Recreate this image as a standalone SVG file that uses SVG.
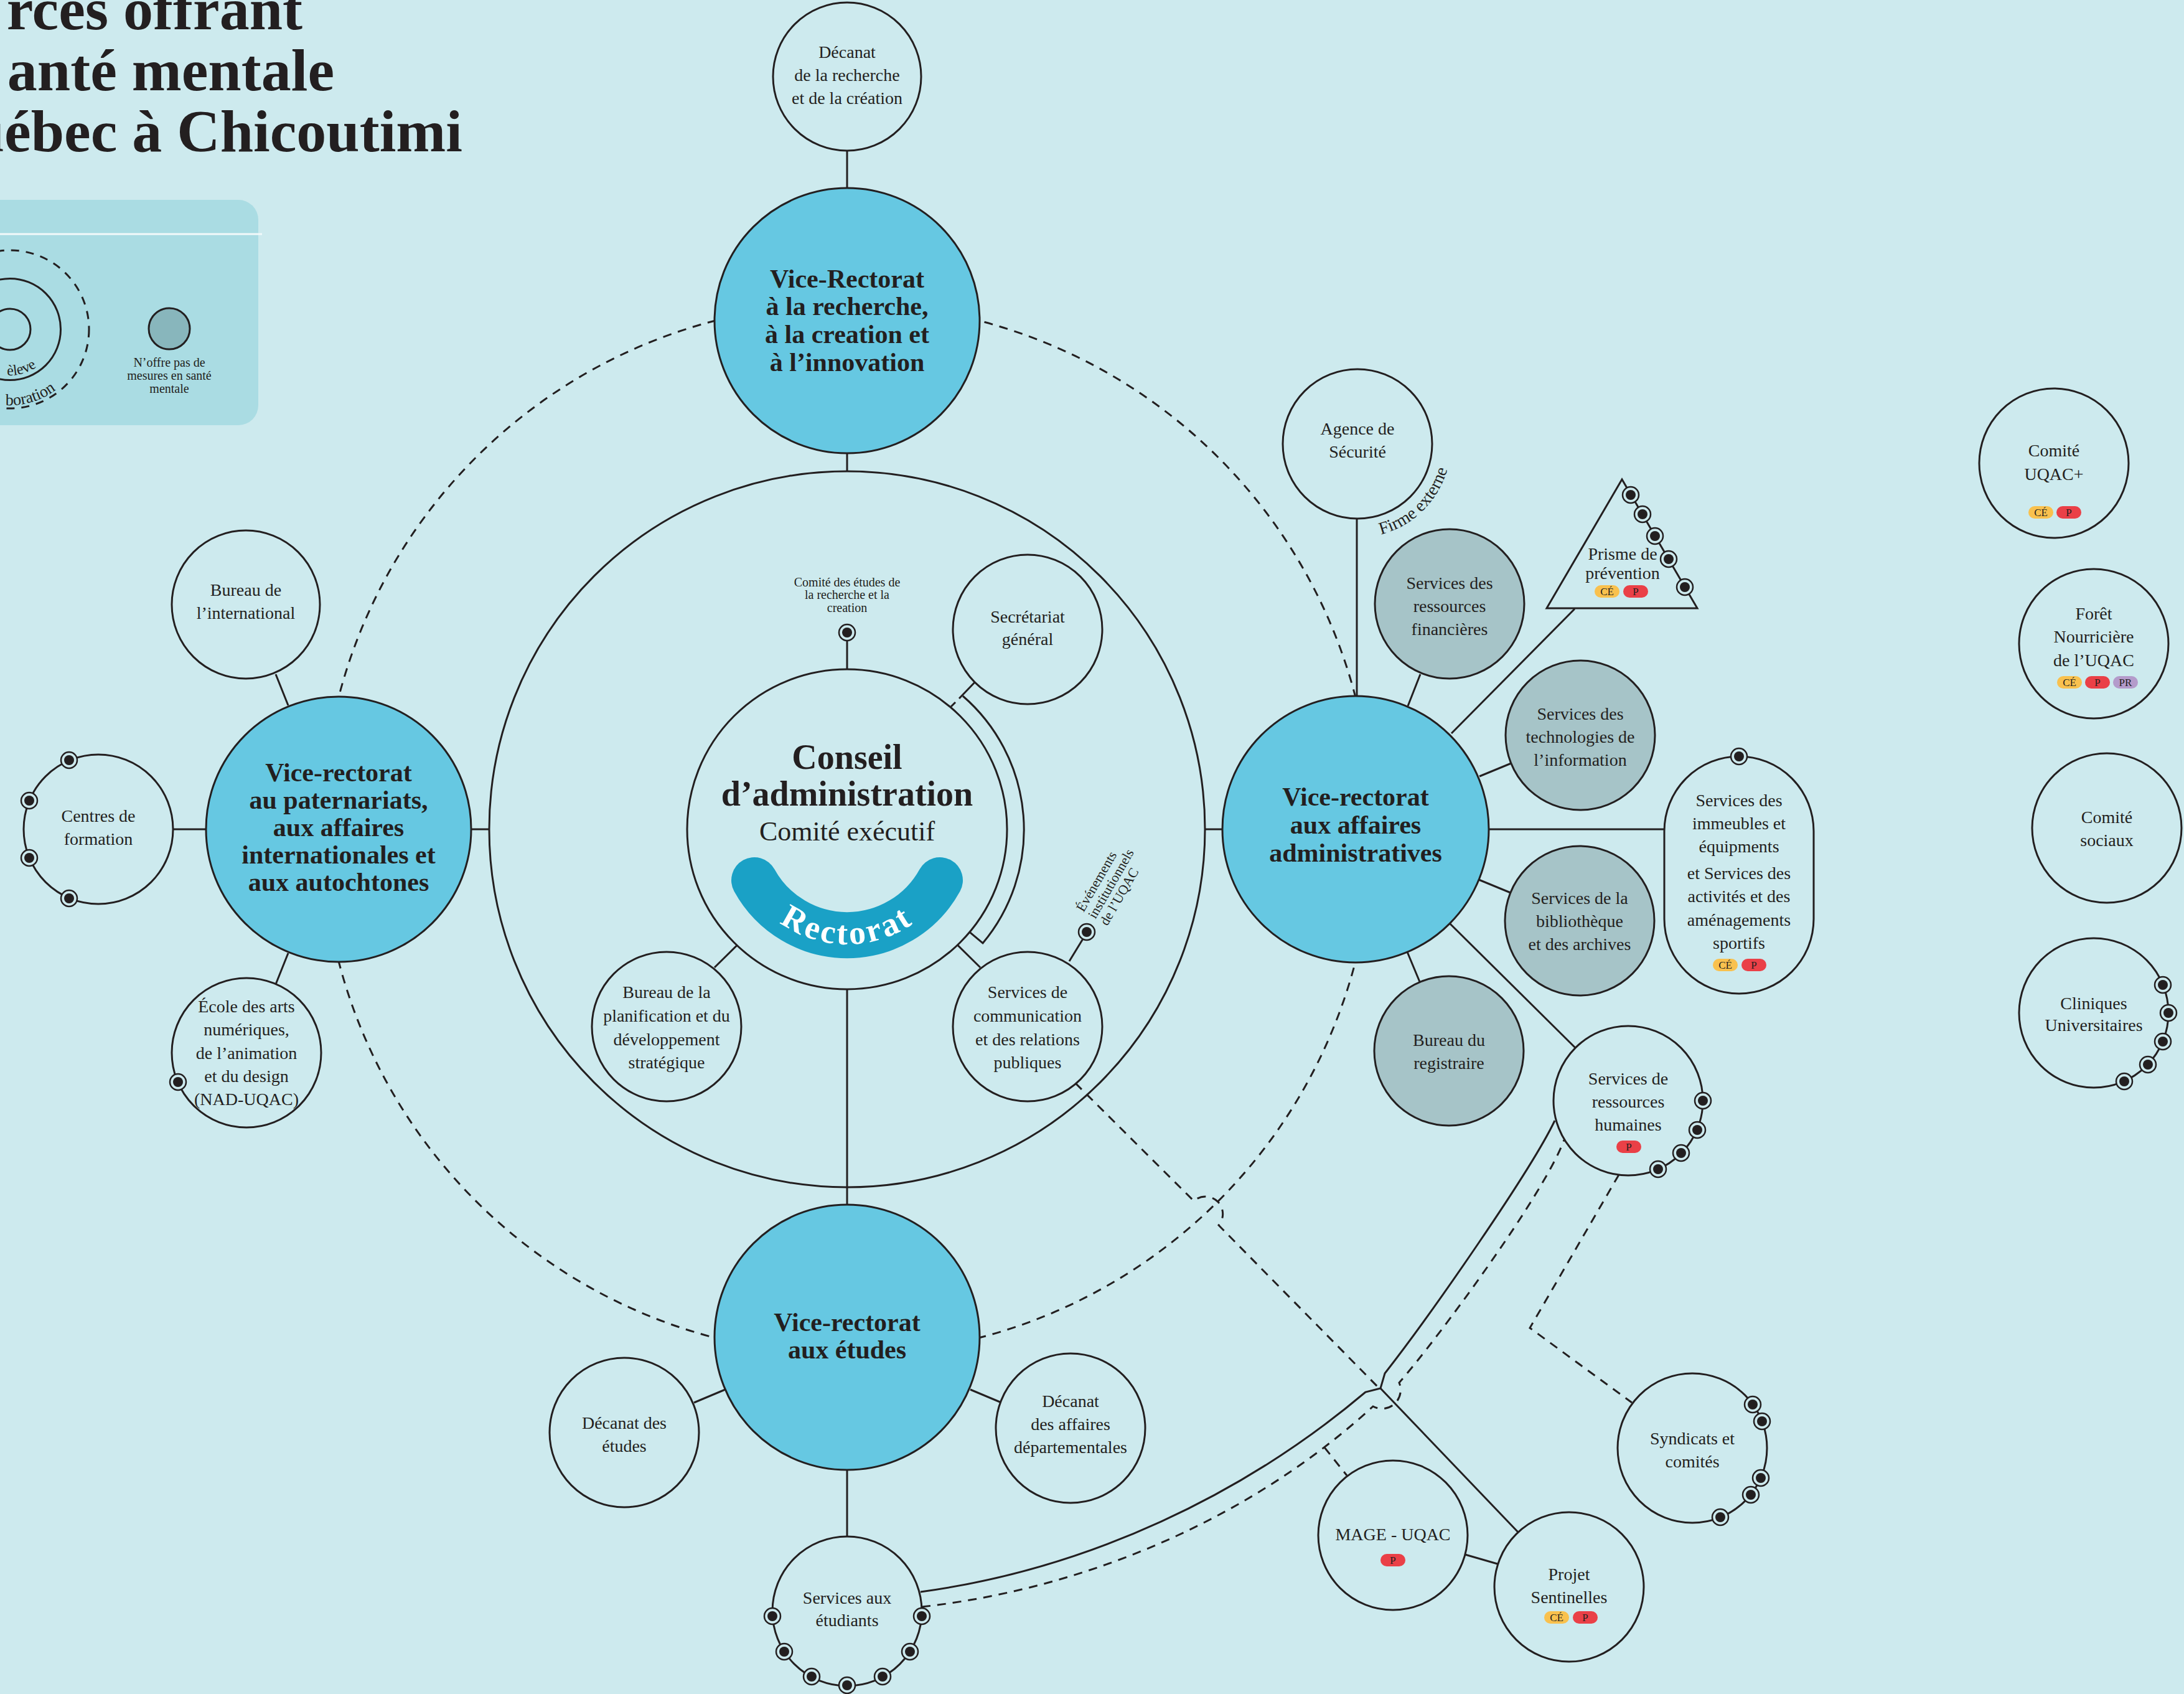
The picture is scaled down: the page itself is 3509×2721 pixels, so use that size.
<svg xmlns="http://www.w3.org/2000/svg" xmlns:xlink="http://www.w3.org/1999/xlink" width="3509" height="2721" viewBox="0 0 3509 2721">
<style>
.ln{stroke:#231f20;stroke-width:3;fill:none}
.ds{stroke-dasharray:14 11}
.nd{fill:#cdeaee;stroke:#231f20;stroke-width:3}
.vr{fill:#66c8e2;stroke:#231f20;stroke-width:3}
.gr{fill:#a6c4c8;stroke:#231f20;stroke-width:3}
.t{font-family:"Liberation Serif",serif;font-size:28px;fill:#231f20;text-anchor:middle}
.tb{font-weight:bold;font-size:42px}
.bt{font-family:"Liberation Serif",serif;font-size:17px;fill:#231f20;text-anchor:middle}
.ce{fill:#f9c14e}.p{fill:#ea4047}.pr{fill:#b49bcb}
.title{font-family:"Liberation Serif",serif;font-weight:bold;font-size:96px;fill:#231f20;text-anchor:end}
</style>
<defs>
<g id="dot"><circle r="13" fill="#cdeaee" stroke="#231f20" stroke-width="2.5"/><circle r="8" fill="#231f20"/></g>
<path id="pElev" d="M -58 529 A 74 74 0 0 0 90 529"/>
<path id="pColl" d="M -106 529 A 122 122 0 0 0 138 529"/>
<path id="pRect" d="M 1176 1332 A 185 185 0 0 0 1546 1332"/>
<path id="pFirme" d="M 2207 861 A 150 150 0 0 0 2331 713"/>
</defs>
<rect x="0" y="0" width="3509" height="2721" fill="#cdeaee"/>

<g id="title">
<text class="title" x="486" y="47">rces offrant</text>
<text class="title" x="537" y="145">anté mentale</text>
<text class="title" x="743" y="243">uébec à Chicoutimi</text>
</g>

<g id="legend">
<rect x="-40" y="321" width="455" height="362" rx="32" fill="#aadce3"/>
<line x1="-10" y1="376" x2="421" y2="376" stroke="#f2f9fa" stroke-width="3"/>
<circle cx="16" cy="529" r="33" fill="none" stroke="#231f20" stroke-width="3"/>
<circle cx="16" cy="529" r="81.5" fill="none" stroke="#231f20" stroke-width="3"/>
<circle cx="16" cy="529" r="127" fill="none" stroke="#231f20" stroke-width="3" stroke-dasharray="13 11"/>
<text font-family="Liberation Serif,serif" font-size="24" fill="#231f20" text-anchor="end"><textPath href="#pElev" startOffset="162">èleve</textPath></text>
<text font-family="Liberation Serif,serif" font-size="26" fill="#231f20" text-anchor="end"><textPath href="#pColl" startOffset="271">boration</textPath></text>
<circle cx="272" cy="528" r="33" fill="#88b6bc" stroke="#231f20" stroke-width="3"/>
<text class="t" style="font-size:20px"><tspan x="272" y="589">N’offre pas de</tspan><tspan x="272" y="610">mesures en santé</tspan><tspan x="272" y="631">mentale</tspan></text>
</g>

<g id="rings">
<circle cx="1361" cy="1332" r="844" class="ln ds"/>
<circle cx="1361" cy="1332" r="575" class="ln"/>
</g>

<g id="connectors" class="ln">
<line x1="1361" y1="242" x2="1361" y2="302"/>
<line x1="1361" y1="728" x2="1361" y2="757"/>
<line x1="1361" y1="1539" x2="1361" y2="1935"/>
<line x1="757" y1="1332" x2="786" y2="1332"/>
<line x1="1936" y1="1332" x2="1965" y2="1332"/>
<line x1="443" y1="1083" x2="463" y2="1133"/>
<line x1="443" y1="1581" x2="463" y2="1531"/>
<line x1="278" y1="1332" x2="331" y2="1332"/>
<line x1="1361" y1="1029" x2="1361" y2="1075"/>
<line x1="1566" y1="1096" x2="1541" y2="1122"/>
<line x1="1528" y1="1135" x2="1535" y2="1128"/>
<path d="M 1547 1118 A 284 284 0 0 1 1579 1515 L 1522 1467"/>
<line x1="1218" y1="1485" x2="1148" y2="1554"/>
<line x1="1505" y1="1485" x2="1575" y2="1554"/>
<line x1="1718" y1="1544" x2="1740" y2="1508"/>
<line x1="1165" y1="2232" x2="1115" y2="2253"/>
<line x1="1559" y1="2232" x2="1609" y2="2253"/>
<line x1="1361" y1="2361" x2="1361" y2="2468"/>
<line x1="2180" y1="833" x2="2180" y2="1118"/>
<line x1="2282" y1="1083" x2="2262" y2="1134"/>
<line x1="2530" y1="978" x2="2332" y2="1178"/>
<line x1="2428" y1="1226" x2="2377" y2="1247"/>
<line x1="2392" y1="1332" x2="2674" y2="1332"/>
<line x1="2376" y1="1413" x2="2427" y2="1434"/>
<line x1="2261" y1="1529" x2="2281" y2="1577"/>
<line x1="2329" y1="1483" x2="2531" y2="1683"/>
<path d="M 1479 2557 C 1750 2520 2000 2400 2194 2236 L 2218 2230 L 2225 2206 C 2300 2110 2460 1880 2498 1800"/>
<path class="ds" d="M 1481 2581 C 1760 2550 2020 2430 2206 2259 A 30 30 0 0 0 2248 2221 C 2310 2150 2480 1920 2513 1831"/>
<path class="ds" d="M 1728 1740 L 1918 1929 A 28 28 0 0 1 1958 1968 L 2214 2228"/>
<line x1="2218" y1="2230" x2="2439" y2="2461"/>
<path class="ds" d="M 2601 1887 L 2458 2133 L 2622 2253"/>
<line class="ds" x1="2128" y1="2325" x2="2164" y2="2370"/>
<line x1="2354" y1="2497" x2="2406" y2="2512"/>
</g>

<g id="n-decanat-recherche">
<circle cx="1361" cy="123" r="119" class="nd"/>
<text class="t"><tspan x="1361" y="93">Décanat</tspan><tspan x="1361" y="130">de la recherche</tspan><tspan x="1361" y="167">et de la création</tspan></text>
</g>
<g id="n-vr-recherche">
<circle cx="1361" cy="515" r="213" class="vr"/>
<text class="t tb"><tspan x="1361" y="462">Vice-Rectorat</tspan><tspan x="1361" y="506">à la recherche,</tspan><tspan x="1361" y="551">à la creation et</tspan><tspan x="1361" y="596">à l’innovation</tspan></text>
</g>
<g id="n-conseil">
<circle cx="1361" cy="1332" r="257" class="nd"/>
<text class="t" style="font-weight:bold;font-size:56px"><tspan x="1361" y="1235">Conseil</tspan><tspan x="1361" y="1294">d’administration</tspan></text>
<text class="t" style="font-size:44px" x="1361" y="1350">Comité exécutif</text>
</g>
<g id="n-rectorat">
<path d="M 1212 1414 A 170 170 0 0 0 1510 1414" fill="none" stroke="#1aa1c6" stroke-width="74" stroke-linecap="round"/>
<text font-family="Liberation Serif,serif" font-weight="bold" font-size="54" fill="#ffffff" letter-spacing="4" text-anchor="middle"><textPath href="#pRect" startOffset="50%">Rectorat</textPath></text>
</g>
<g id="n-comite-etudes">
<use href="#dot" x="1361" y="1016"/>
<text class="t" style="font-size:20px"><tspan x="1361" y="942">Comité des études de</tspan><tspan x="1361" y="962">la recherche et la</tspan><tspan x="1361" y="983">creation</tspan></text>
</g>
<g id="n-secretariat">
<circle cx="1651" cy="1011" r="120" class="nd"/>
<text class="t"><tspan x="1651" y="1000">Secrétariat</tspan><tspan x="1651" y="1036">général</tspan></text>
</g>
<g id="n-planification">
<circle cx="1071" cy="1649" r="120" class="nd"/>
<text class="t"><tspan x="1071" y="1603">Bureau de la</tspan><tspan x="1071" y="1641">planification et du</tspan><tspan x="1071" y="1679">développement</tspan><tspan x="1071" y="1716">stratégique</tspan></text>
</g>
<g id="n-communication">
<circle cx="1651" cy="1649" r="120" class="nd"/>
<text class="t"><tspan x="1651" y="1603">Services de</tspan><tspan x="1651" y="1641">communication</tspan><tspan x="1651" y="1679">et des relations</tspan><tspan x="1651" y="1716">publiques</tspan></text>
</g>
<g id="n-evenements">
<use href="#dot" x="1746" y="1497"/>
<text class="t" style="font-size:22px;text-anchor:start" transform="translate(1741 1466) rotate(-60)"><tspan x="0" y="0">Événements</tspan><tspan x="0" y="22">institutionnels</tspan><tspan x="0" y="44">de l’UQAC</tspan></text>
</g>

<g id="n-vr-partenariats">
<circle cx="544" cy="1332" r="213" class="vr"/>
<text class="t tb"><tspan x="544" y="1255">Vice-rectorat</tspan><tspan x="544" y="1299">au paternariats,</tspan><tspan x="544" y="1343">aux affaires</tspan><tspan x="544" y="1387">internationales et</tspan><tspan x="544" y="1431">aux autochtones</tspan></text>
</g>
<g id="n-international">
<circle cx="395" cy="971" r="119" class="nd"/>
<text class="t"><tspan x="395" y="957">Bureau de</tspan><tspan x="395" y="994">l’international</tspan></text>
</g>
<g id="n-centres-formation">
<circle cx="158" cy="1332" r="120" class="nd"/>
<text class="t"><tspan x="158" y="1320">Centres de</tspan><tspan x="158" y="1357">formation</tspan></text>
<use href="#dot" x="111" y="1221"/><use href="#dot" x="47" y="1286"/><use href="#dot" x="47" y="1378"/><use href="#dot" x="111" y="1443"/>
</g>
<g id="n-ecole-arts">
<circle cx="396" cy="1691" r="120" class="nd"/>
<text class="t"><tspan x="396" y="1626">École des arts</tspan><tspan x="396" y="1663">numériques,</tspan><tspan x="396" y="1701">de l’animation</tspan><tspan x="396" y="1738">et du design</tspan><tspan x="396" y="1775">(NAD-UQAC)</tspan></text>
<use href="#dot" x="286" y="1738"/>
</g>

<g id="n-vr-etudes">
<circle cx="1361" cy="2148" r="213" class="vr"/>
<text class="t tb"><tspan x="1361" y="2138">Vice-rectorat</tspan><tspan x="1361" y="2182">aux études</tspan></text>
</g>
<g id="n-decanat-etudes">
<circle cx="1003" cy="2301" r="120" class="nd"/>
<text class="t"><tspan x="1003" y="2295">Décanat des</tspan><tspan x="1003" y="2332">études</tspan></text>
</g>
<g id="n-decanat-affaires">
<circle cx="1720" cy="2294" r="120" class="nd"/>
<text class="t"><tspan x="1720" y="2260">Décanat</tspan><tspan x="1720" y="2297">des affaires</tspan><tspan x="1720" y="2334">départementales</tspan></text>
</g>
<g id="n-services-etudiants">
<circle cx="1361" cy="2588" r="120" class="nd"/>
<text class="t"><tspan x="1361" y="2576">Services aux</tspan><tspan x="1361" y="2612">étudiants</tspan></text>
<use href="#dot" x="1481" y="2596"/><use href="#dot" x="1462" y="2653"/><use href="#dot" x="1418" y="2693"/><use href="#dot" x="1361" y="2707"/><use href="#dot" x="1304" y="2693"/><use href="#dot" x="1260" y="2653"/><use href="#dot" x="1241" y="2596"/>
</g>

<g id="n-vr-admin">
<circle cx="2178" cy="1332" r="214" class="vr"/>
<text class="t tb"><tspan x="2178" y="1294">Vice-rectorat</tspan><tspan x="2178" y="1339">aux affaires</tspan><tspan x="2178" y="1384">administratives</tspan></text>
</g>
<g id="n-agence">
<circle cx="2181" cy="713" r="120" class="nd"/>
<text class="t"><tspan x="2181" y="698">Agence de</tspan><tspan x="2181" y="735">Sécurité</tspan></text>
<text class="t" style="text-anchor:start"><textPath href="#pFirme" startOffset="12">Firme externe</textPath></text>
</g>
<g id="n-ressources-financieres">
<circle cx="2329" cy="970" r="120" class="gr"/>
<text class="t"><tspan x="2329" y="946">Services des</tspan><tspan x="2329" y="983">ressources</tspan><tspan x="2329" y="1020">financières</tspan></text>
</g>
<g id="n-prisme">
<polygon points="2606,770 2485,977 2727,977" class="nd"/>
<text class="t"><tspan x="2607" y="899">Prisme de</tspan><tspan x="2607" y="930">prévention</tspan></text>
<rect x="2562" y="940" width="40" height="20" rx="10" class="ce"/><text class="bt" x="2582" y="956">CÉ</text>
<rect x="2608" y="940" width="40" height="20" rx="10" class="p"/><text class="bt" x="2628" y="956">P</text>
<use href="#dot" x="2620" y="795"/><use href="#dot" x="2639" y="826"/><use href="#dot" x="2659" y="861"/><use href="#dot" x="2681" y="898"/><use href="#dot" x="2707" y="943"/>
</g>
<g id="n-technologies">
<circle cx="2539" cy="1181" r="120" class="gr"/>
<text class="t"><tspan x="2539" y="1156">Services des</tspan><tspan x="2539" y="1193">technologies de</tspan><tspan x="2539" y="1230">l’information</tspan></text>
</g>
<g id="n-immeubles">
<rect x="2674" y="1215" width="240" height="381" rx="120" class="nd"/>
<text class="t"><tspan x="2794" y="1295">Services des</tspan><tspan x="2794" y="1332">immeubles et</tspan><tspan x="2794" y="1369">équipments</tspan><tspan x="2794" y="1412">et Services des</tspan><tspan x="2794" y="1449">activités et des</tspan><tspan x="2794" y="1487">aménagements</tspan><tspan x="2794" y="1524">sportifs</tspan></text>
<rect x="2752" y="1540" width="40" height="20" rx="10" class="ce"/><text class="bt" x="2772" y="1556">CÉ</text>
<rect x="2798" y="1540" width="40" height="20" rx="10" class="p"/><text class="bt" x="2818" y="1556">P</text>
<use href="#dot" x="2794" y="1215"/>
</g>
<g id="n-bibliotheque">
<circle cx="2538" cy="1479" r="120" class="gr"/>
<text class="t"><tspan x="2538" y="1452">Services de la</tspan><tspan x="2538" y="1489">bibliothèque</tspan><tspan x="2538" y="1526">et des archives</tspan></text>
</g>
<g id="n-registraire">
<circle cx="2328" cy="1688" r="120" class="gr"/>
<text class="t"><tspan x="2328" y="1680">Bureau du</tspan><tspan x="2328" y="1717">registraire</tspan></text>
</g>
<g id="n-ressources-humaines">
<circle cx="2616" cy="1768" r="120" class="nd"/>
<text class="t"><tspan x="2616" y="1742">Services de</tspan><tspan x="2616" y="1779">ressources</tspan><tspan x="2616" y="1816">humaines</tspan></text>
<rect x="2597" y="1832" width="40" height="20" rx="10" class="p"/><text class="bt" x="2617" y="1848">P</text>
<use href="#dot" x="2736" y="1768"/><use href="#dot" x="2727" y="1815"/><use href="#dot" x="2701" y="1852"/><use href="#dot" x="2664" y="1878"/>
</g>
<g id="n-syndicats">
<circle cx="2719" cy="2326" r="120" class="nd"/>
<text class="t"><tspan x="2719" y="2320">Syndicats et</tspan><tspan x="2719" y="2357">comités</tspan></text>
<use href="#dot" x="2816" y="2256"/><use href="#dot" x="2831" y="2283"/><use href="#dot" x="2829" y="2374"/><use href="#dot" x="2813" y="2401"/><use href="#dot" x="2764" y="2437"/>
</g>
<g id="n-mage">
<circle cx="2238" cy="2466" r="120" class="nd"/>
<text class="t" x="2238" y="2474">MAGE - UQAC</text>
<rect x="2218" y="2496" width="40" height="20" rx="10" class="p"/><text class="bt" x="2238" y="2512">P</text>
</g>
<g id="n-sentinelles">
<circle cx="2521" cy="2549" r="120" class="nd"/>
<text class="t"><tspan x="2521" y="2538">Projet</tspan><tspan x="2521" y="2575">Sentinelles</tspan></text>
<rect x="2481" y="2588" width="40" height="20" rx="10" class="ce"/><text class="bt" x="2501" y="2604">CÉ</text>
<rect x="2527" y="2588" width="40" height="20" rx="10" class="p"/><text class="bt" x="2547" y="2604">P</text>
</g>

<g id="n-comite-uqac-plus">
<circle cx="3300" cy="744" r="120" class="nd"/>
<text class="t"><tspan x="3300" y="733">Comité</tspan><tspan x="3300" y="771">UQAC+</tspan></text>
<rect x="3259" y="813" width="40" height="20" rx="10" class="ce"/><text class="bt" x="3279" y="829">CÉ</text>
<rect x="3304" y="813" width="40" height="20" rx="10" class="p"/><text class="bt" x="3324" y="829">P</text>
</g>
<g id="n-foret">
<circle cx="3364" cy="1034" r="120" class="nd"/>
<text class="t"><tspan x="3364" y="995">Forêt</tspan><tspan x="3364" y="1032">Nourricière</tspan><tspan x="3364" y="1070">de l’UQAC</tspan></text>
<rect x="3305" y="1086" width="40" height="20" rx="10" class="ce"/><text class="bt" x="3325" y="1102">CÉ</text>
<rect x="3350" y="1086" width="40" height="20" rx="10" class="p"/><text class="bt" x="3370" y="1102">P</text>
<rect x="3395" y="1086" width="40" height="20" rx="10" class="pr"/><text class="bt" x="3415" y="1102">PR</text>
</g>
<g id="n-comite-sociaux">
<circle cx="3385" cy="1330" r="120" class="nd"/>
<text class="t"><tspan x="3385" y="1322">Comité</tspan><tspan x="3385" y="1359">sociaux</tspan></text>
</g>
<g id="n-cliniques">
<circle cx="3364" cy="1627" r="120" class="nd"/>
<text class="t"><tspan x="3364" y="1621">Cliniques</tspan><tspan x="3364" y="1656">Universitaires</tspan></text>
<use href="#dot" x="3475" y="1582"/><use href="#dot" x="3484" y="1627"/><use href="#dot" x="3475" y="1673"/><use href="#dot" x="3451" y="1710"/><use href="#dot" x="3413" y="1737"/>
</g>
</svg>
